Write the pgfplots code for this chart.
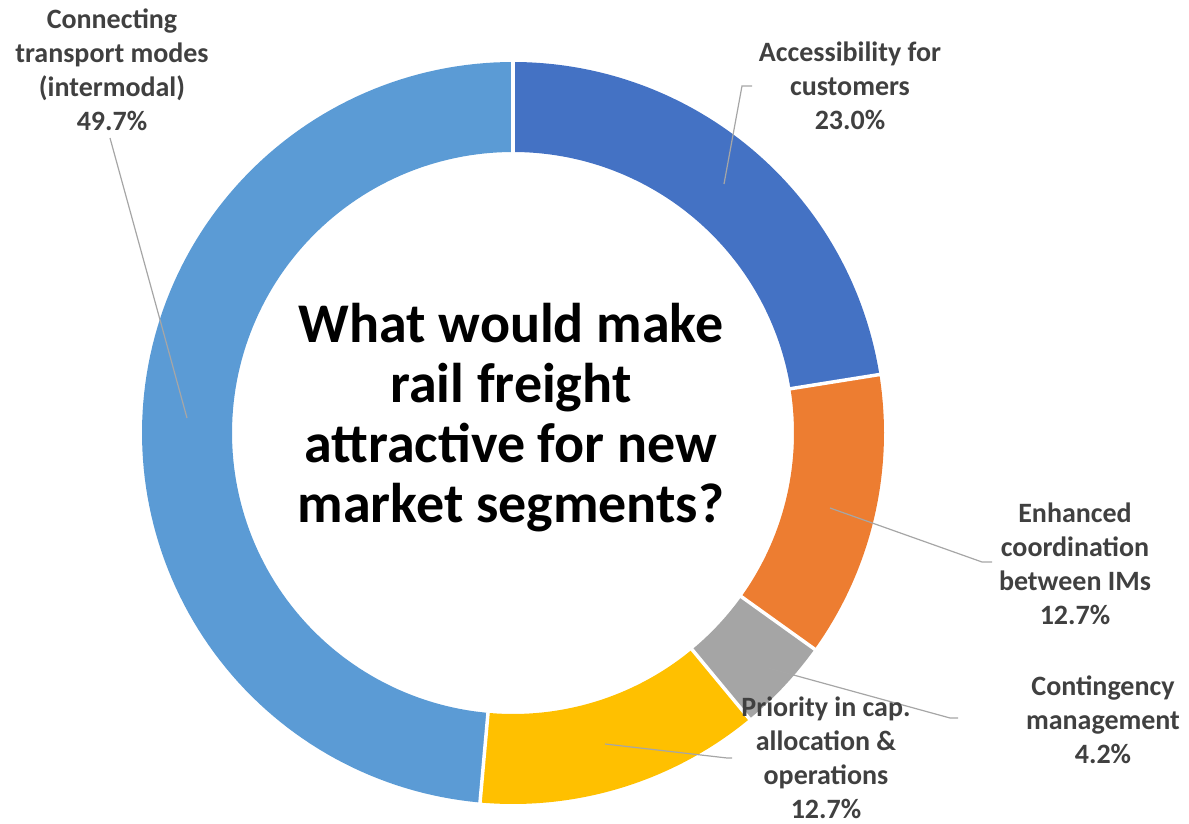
\documentclass[border=0pt]{standalone}
\usepackage{fontspec}
\setmainfont{Carlito}
\usepackage{pgfplots}
\usepackage{pgfplotstable}
\pgfplotsset{compat=1.18}
\definecolor{slice0}{HTML}{4472C4}
\definecolor{slice1}{HTML}{ED7D31}
\definecolor{slice2}{HTML}{A5A5A5}
\definecolor{slice3}{HTML}{FFC000}
\definecolor{slice4}{HTML}{5B9BD5}
\definecolor{labelgray}{HTML}{404040}
\definecolor{leadgray}{HTML}{A6A6A6}

\pgfplotstableread{
value
23.0
12.7
4.2
12.7
49.7
}\donutdata

\begin{document}
\begin{tikzpicture}
\useasboundingbox (0,0) rectangle (1189pt,824pt);
\pgfmathsetmacro\total{0}
\pgfplotsforeachungrouped \i in {0,...,4}{%
  \pgfplotstablegetelem{\i}{value}\of\donutdata
  \pgfmathsetmacro\total{\total+\pgfplotsretval}%
}
\begin{axis}[
  scale only axis, width=1189pt, height=824pt,
  xmin=0, xmax=1189, ymin=0, ymax=824,
  hide axis, clip=false,
]
\pgfmathsetmacro\start{90}
\pgfplotsforeachungrouped \i in {0,...,4}{%
  \pgfplotstablegetelem{\i}{value}\of\donutdata
  \pgfmathsetmacro\stop{\start-\pgfplotsretval/\total*360}%
  \edef\doplot{\noexpand\addplot[draw=slice\i, line width=90pt, line cap=butt, no markers,
     domain=\stop:\start, samples=120] ({513+326*cos(x)},{391+326*sin(x)});}%
  \doplot
  \let\start\stop
}
\pgfmathsetmacro\start{90}
\pgfplotsforeachungrouped \i in {0,...,4}{%
  \pgfplotstablegetelem{\i}{value}\of\donutdata
  \edef\doplot{\noexpand\addplot[draw=white, line width=3.5pt, no markers,
     domain=275:377, samples=2] ({513+x*cos(\start)},{391+x*sin(\start)});}%
  \doplot
  \pgfmathsetmacro\stop{\start-\pgfplotsretval/\total*360}%
  \let\start\stop
}
% leader lines
\draw[leadgray, line width=1.2pt] (axis cs:724,640) -- (axis cs:742,738) -- (axis cs:752,738);
\draw[leadgray, line width=1.2pt] (axis cs:830,316) -- (axis cs:982,262) -- (axis cs:992,262);
\draw[leadgray, line width=1.2pt] (axis cs:768,156) -- (axis cs:950,106) -- (axis cs:958,106);
\draw[leadgray, line width=1.2pt] (axis cs:605,80) -- (axis cs:727,66) -- (axis cs:732,66);
\draw[leadgray, line width=1.2pt] (axis cs:187,406) -- (axis cs:110,686);
% labels
\tikzset{lbl/.style={align=center, inner sep=0pt, text=labelgray,
  font=\fontsize{28}{34}\selectfont\bfseries}}
\node[lbl] at (axis cs:112,754) {Connecting\\transport modes\\(intermodal)\\49.7\%};
\node[lbl] at (axis cs:850,738) {Accessibility for\\customers\\23.0\%};
\node[lbl] at (axis cs:1075,260) {Enhanced\\coordination\\between IMs\\12.7\%};
\node[lbl] at (axis cs:1103,104) {Contingency\\management\\4.2\%};
\node[lbl] at (axis cs:826,66) {Priority in cap.\\allocation \&\\operations\\12.7\%};
\node[align=center, inner sep=0pt, text=black, font=\fontsize{56}{60}\selectfont\bfseries]
  at (axis cs:511,406) {What would make\\rail freight\\attractive for new\\market segments?};
\end{axis}
\end{tikzpicture}
\end{document}
